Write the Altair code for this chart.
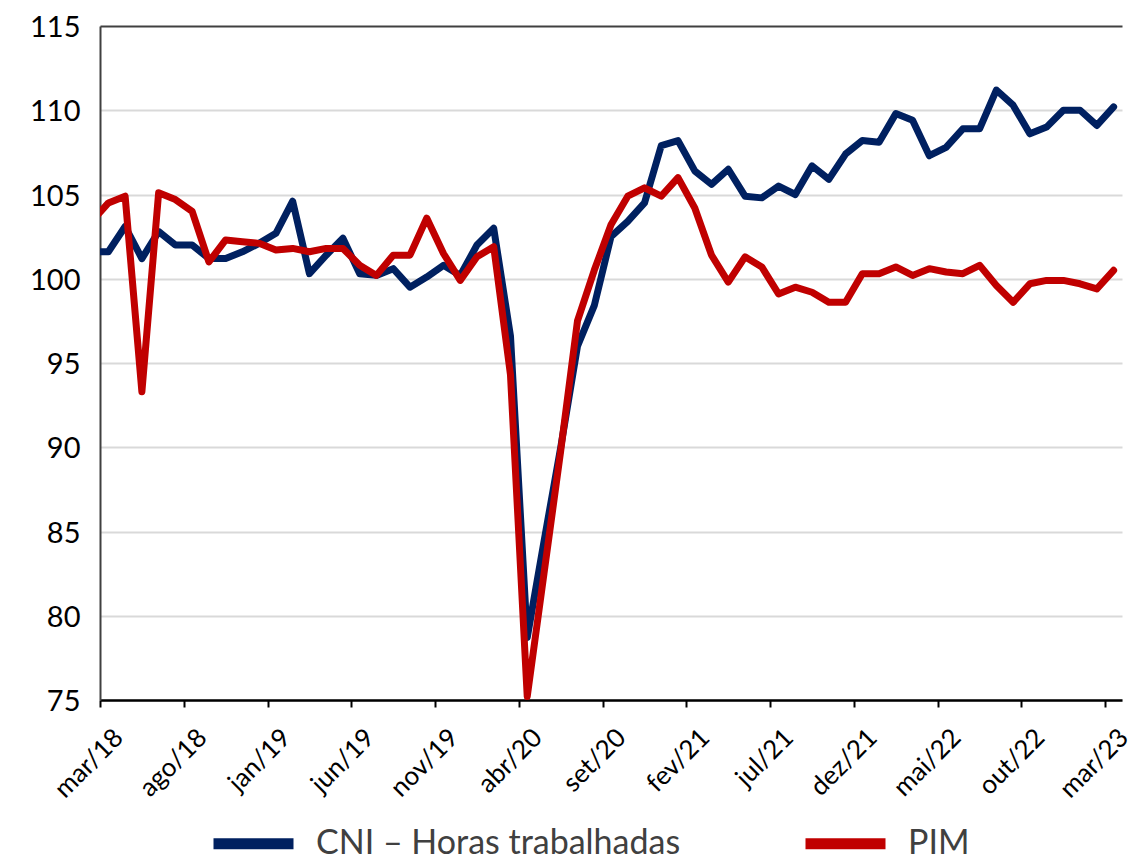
import altair as alt
import pandas as pd

MESES = ["jan", "fev", "mar", "abr", "mai", "jun", "jul", "ago", "set", "out", "nov", "dez"]
# Monthly categories from fev/18 (only partly visible, clipped) to mar/23
periodos = []
for ano in range(18, 24):
    for m in MESES:
        periodos.append(f"{m}/{ano}")
periodos = periodos[1:periodos.index("mar/23") + 1]  # fev/18 ... mar/23
indices = list(range(-1, len(periodos) - 1))            # fev/18 -> -1, mar/18 -> 0

S_CNI = "CNI – Horas trabalhadas"
S_PIM = "PIM"

cni = [101.6,
       101.6, 103.1, 101.2, 102.8, 102.0, 102.0, 101.2, 101.2, 101.6, 102.1,
       102.7, 104.6, 100.3, 101.4, 102.4, 100.3, 100.2, 100.6, 99.5, 100.1,
       100.8, 100.2, 102.0, 103.0, 96.6, 78.7, 84.4, 90.0, 96.0, 98.4,
       102.5, 103.4, 104.5, 107.9, 108.2, 106.4, 105.6, 106.5, 104.9, 104.8,
       105.5, 105.0, 106.7, 105.9, 107.4, 108.2, 108.1, 109.8, 109.4, 107.3,
       107.8, 108.9, 108.9, 111.2, 110.3, 108.6, 109.0, 110.0, 110.0, 109.1,
       110.2]

pim = [103.4,
       104.5, 104.9, 93.3, 105.1, 104.7, 104.0, 101.0, 102.3, 102.2, 102.1,
       101.7, 101.8, 101.6, 101.8, 101.8, 100.8, 100.2, 101.4, 101.4, 103.6,
       101.5, 99.9, 101.3, 101.9, 94.3, 75.2, 82.5, 89.8, 97.5, 100.5,
       103.2, 104.9, 105.4, 104.9, 106.0, 104.2, 101.4, 99.8, 101.3, 100.7,
       99.1, 99.5, 99.2, 98.6, 98.6, 100.3, 100.3, 100.7, 100.2, 100.6,
       100.4, 100.3, 100.8, 99.6, 98.6, 99.7, 99.9, 99.9, 99.7, 99.4,
       100.5]

y_ticks = [75, 80, 85, 90, 95, 100, 105, 110, 115]
x_label_idx = list(range(0, 61, 5))

df = pd.DataFrame({
    "idx": indices + indices,
    "valor": cni + pim,
    "serie": [S_CNI] * len(cni) + [S_PIM] * len(pim),
})

PLOT_W = 1022
PLOT_H = 674
HALF = PLOT_W / 61 / 2

label_expr = "[" + ",".join(f"'{p}'" for p in periodos) + "][datum.value + 1]"

chart = alt.Chart(df).mark_line(
    strokeWidth=7, strokeJoin="round", strokeCap="round", clip=True
).encode(
    x=alt.X(
        "idx:Q",
        scale=alt.Scale(domain=[-0.5, 60.5], nice=False, zero=False),
        axis=alt.Axis(
            values=x_label_idx, labelExpr=label_expr, title=None, grid=False,
            tickOffset=-HALF, labelOffset=HALF + 1,
            labelAngle=-45, labelAlign="right", labelBaseline="top",
            labelFont="Lato", labelFontSize=26, labelColor="#000000",
            labelPadding=17, tickSize=7, tickWidth=2, tickColor="#000000",
            domainColor="#000000", domainWidth=2.5, labelOverlap=False,
        ),
    ),
    y=alt.Y(
        "valor:Q",
        scale=alt.Scale(domain=[75, 115], nice=False, zero=False),
        axis=alt.Axis(
            values=y_ticks, title=None, grid=True,
            gridColor=alt.condition("datum.value == 115", alt.value("#404040"), alt.value("#d9d9d9")),
            gridWidth=2, tickSize=0, labelPadding=20, labelOffset=1.5,
            labelFont="Lato", labelFontSize=29, labelColor="#000000",
            domainColor="#404040", domainWidth=2,
        ),
    ),
    color=alt.Color(
        "serie:N",
        scale=alt.Scale(domain=[S_CNI, S_PIM], range=["#002060", "#C00000"]),
        legend=alt.Legend(
            title=None, orient="none", direction="horizontal",
            legendX=108, legendY=772, padding=0,
            symbolType="stroke", symbolSize=6400, symbolStrokeWidth=11,
            labelFont="Lato", labelFontSize=34, labelColor="#404040",
            labelOffset=17, columnPadding=102, labelLimit=700,
        ),
    ),
).properties(
    width=PLOT_W,
    height=PLOT_H,
    padding={"left": 92, "top": 18, "right": 12, "bottom": 160},
    autosize=alt.AutoSizeParams(type="none"),
).configure_view(stroke=None)

chart.save("out.html", embed_options={"renderer": "svg", "actions": False})
